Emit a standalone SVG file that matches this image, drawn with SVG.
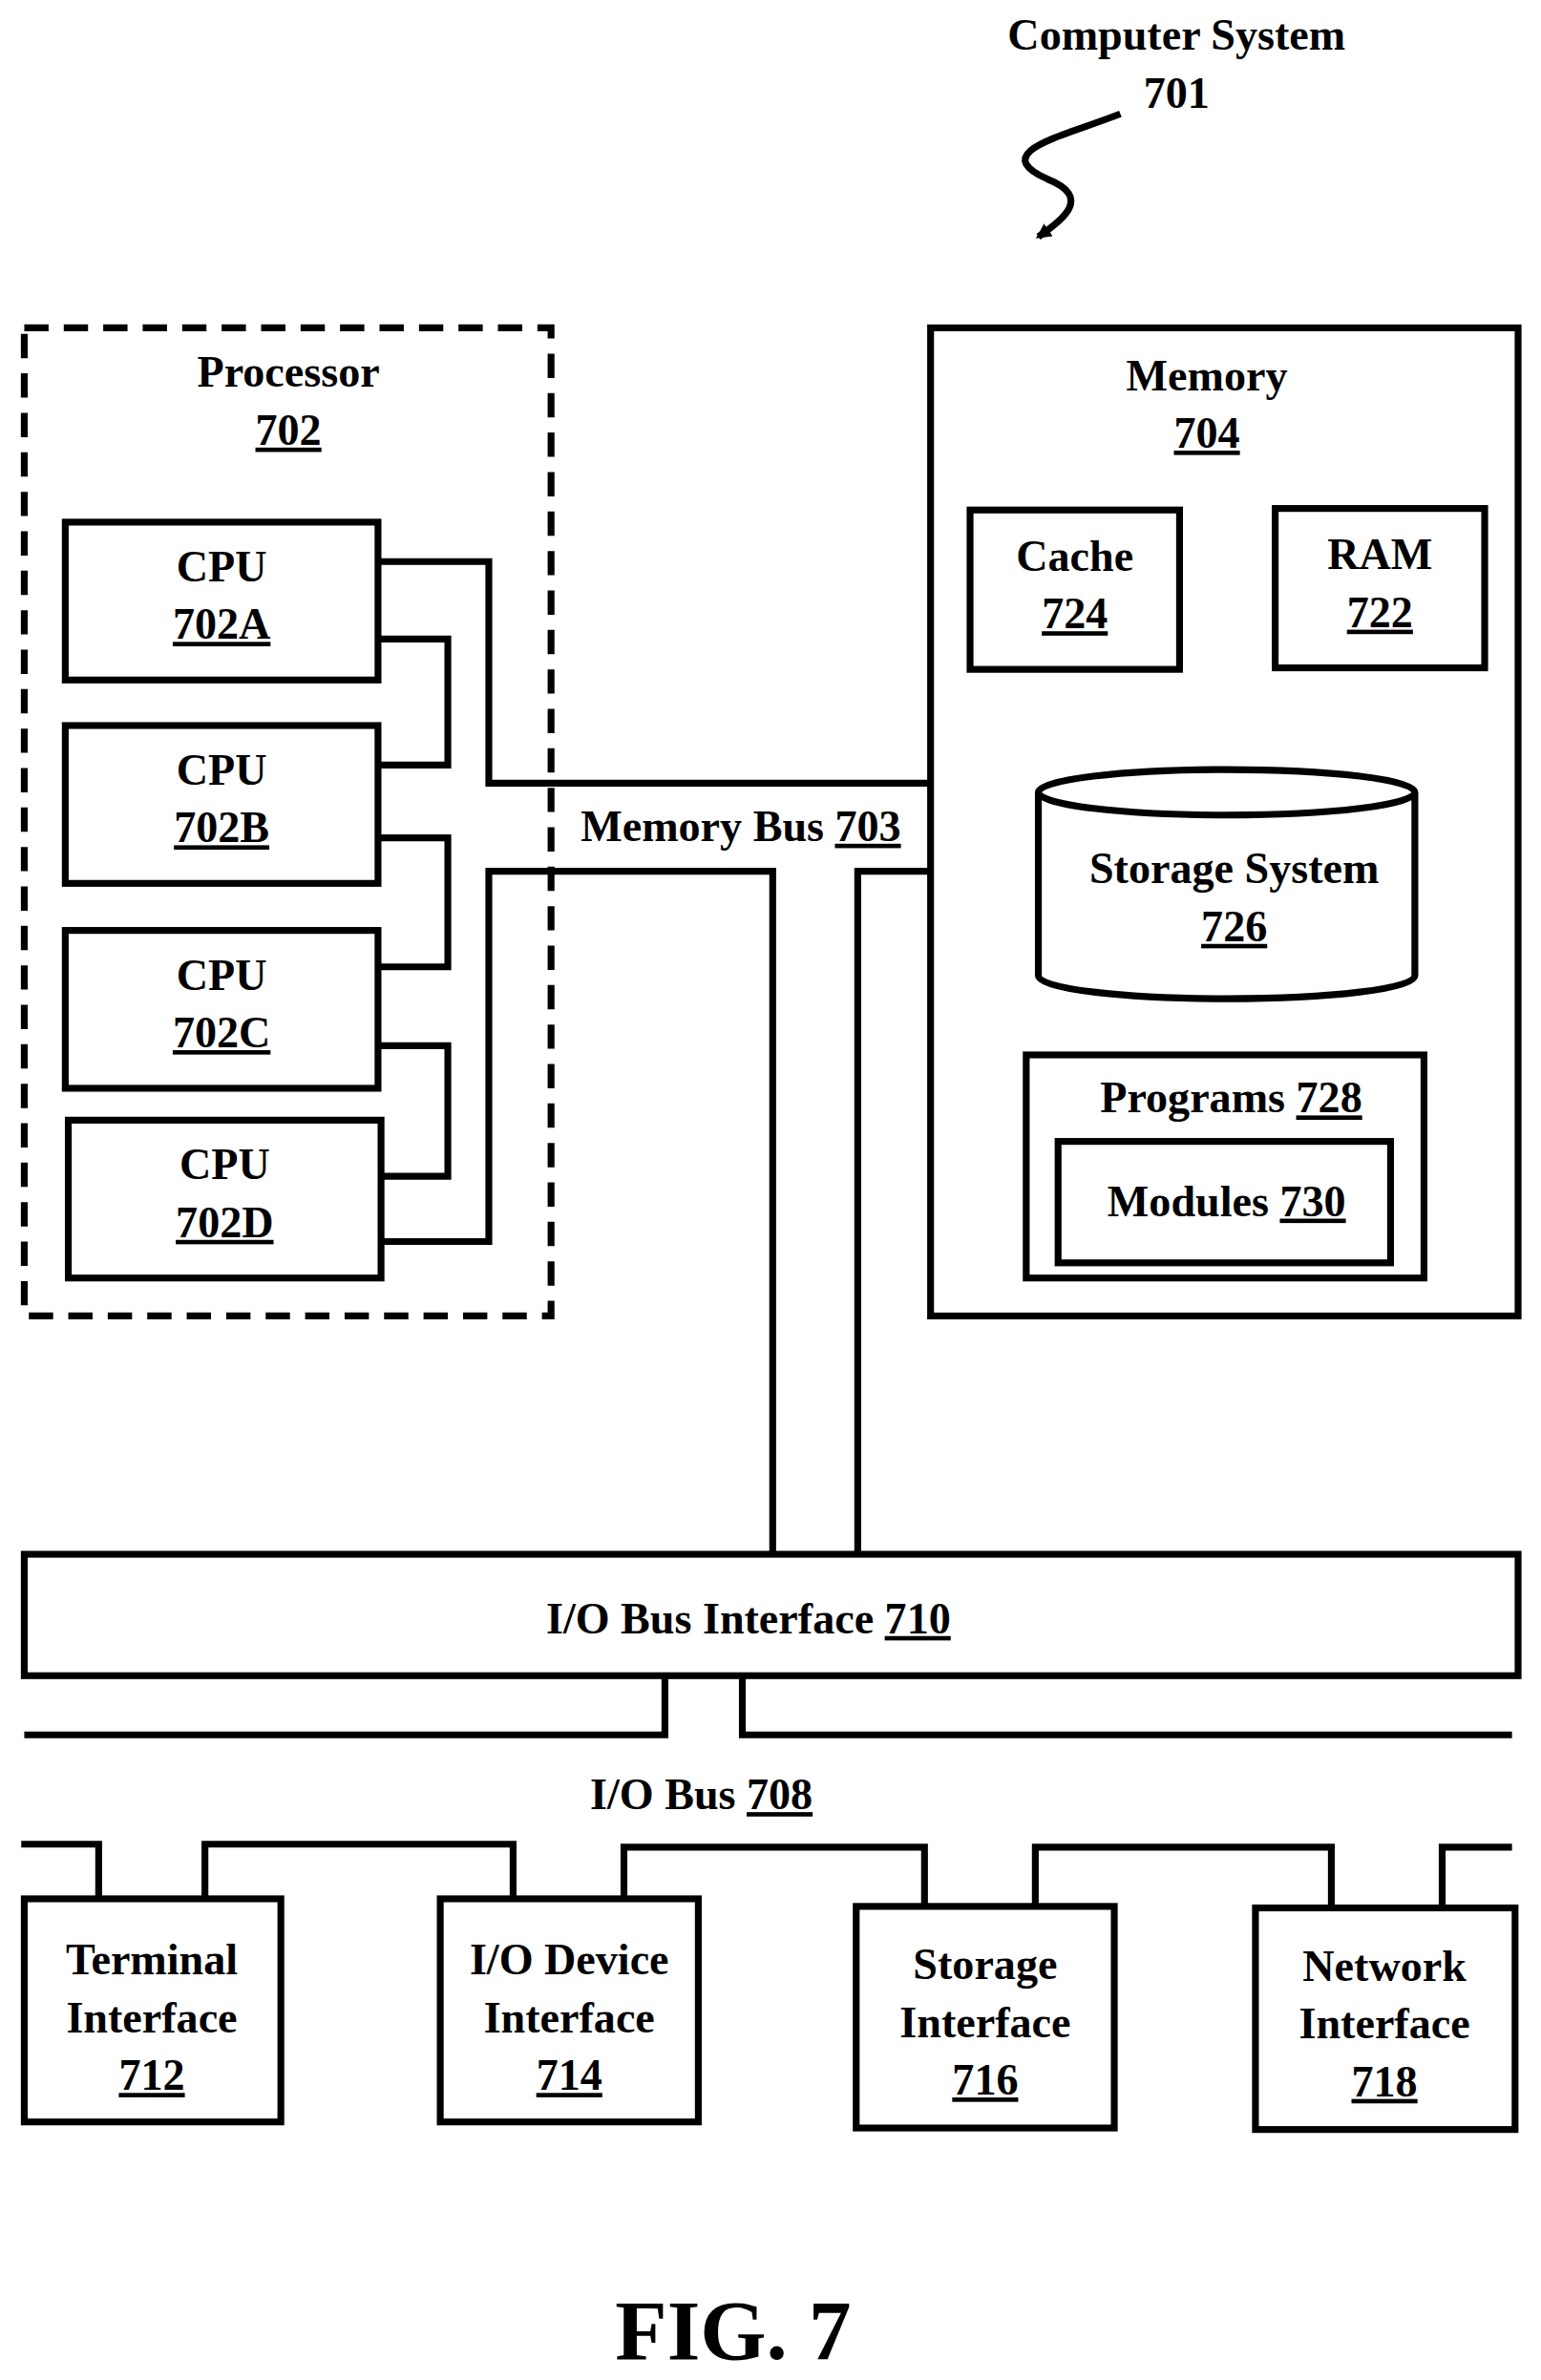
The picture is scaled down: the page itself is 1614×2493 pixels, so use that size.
<svg xmlns="http://www.w3.org/2000/svg" width="1614" height="2493" viewBox="0 0 1614 2493">
<style>
text{font-family:"Liberation Serif","Times New Roman",serif;font-weight:bold;font-size:29px;text-anchor:middle;fill:#000}
.u{text-decoration:underline}
.b{fill:#fff;stroke:#000;stroke-width:4.5}
.l{fill:none;stroke:#000;stroke-width:4.5}
</style>
<defs><marker id="ah" markerWidth="10" markerHeight="10" refX="8" refY="5" orient="auto" markerUnits="userSpaceOnUse"><path d="M0,0 L10,5 L0,10 z"/></marker></defs>
<rect width="1614" height="2493" fill="#fff"/>
<g transform="scale(1.59,1.5899)">
<g id="title"><text x="775" y="33">Computer System</text><text x="775" y="71">701</text>
<path class="l" d="M738,75 C700,90 650,100 690,118 C720,130 700,145 684,156" marker-end="url(#ah)" stroke-width="3"/></g>
<g id="processor"><rect x="16" y="216" width="347" height="651" fill="none" stroke="#000" stroke-width="4.5" stroke-dasharray="16,10"/>
<text x="190" y="255">Processor</text><text x="190" y="293" class="u">702</text></g>
<g id="cpuA"><rect class="b" x="43" y="344" width="206" height="104"/><text x="146" y="383">CPU</text><text x="146" y="421" class="u">702A</text></g>
<g id="cpuB"><rect class="b" x="43" y="478" width="206" height="104"/><text x="146" y="517">CPU</text><text x="146" y="555" class="u">702B</text></g>
<g id="cpuC"><rect class="b" x="43" y="613" width="206" height="104"/><text x="146" y="652">CPU</text><text x="146" y="690" class="u">702C</text></g>
<g id="cpuD"><rect class="b" x="45" y="738" width="206" height="104"/><text x="148" y="777">CPU</text><text x="148" y="815" class="u">702D</text></g>
<g id="memory"><rect class="b" x="613" y="216" width="387" height="651"/><text x="795" y="257">Memory</text><text x="795" y="295" class="u">704</text></g>
<g id="cache"><rect class="b" x="639" y="336" width="138" height="105"/><text x="708" y="376">Cache</text><text x="708" y="414" class="u">724</text></g>
<g id="ram"><rect class="b" x="840" y="335" width="138" height="105"/><text x="909" y="375">RAM</text><text x="909" y="413" class="u">722</text></g>
<g id="storage"><path class="b" d="M684,522 L684,643 A124,15 0 0 0 932,643 L932,522"/><ellipse class="b" cx="808" cy="522" rx="124" ry="15"/>
<text x="813" y="582">Storage System</text><text x="813" y="620" class="u">726</text></g>
<g id="programs"><rect class="b" x="676" y="695" width="262" height="147"/><text x="811" y="733">Programs <tspan class="u">728</tspan></text></g>
<g id="modules"><rect class="b" x="697" y="752" width="219" height="80"/><text x="808" y="801">Modules <tspan class="u">730</tspan></text></g>
<g id="iobi"><rect class="b" x="16" y="1024" width="984" height="80"/><text x="493" y="1076">I/O Bus Interface <tspan class="u">710</tspan></text></g>
<g id="term"><rect class="b" x="16" y="1251" width="169" height="147"/><text x="100" y="1301">Terminal</text><text x="100" y="1339">Interface</text><text x="100" y="1377" class="u">712</text></g>
<g id="iodev"><rect class="b" x="290" y="1251" width="170" height="147"/><text x="375" y="1301">I/O Device</text><text x="375" y="1339">Interface</text><text x="375" y="1377" class="u">714</text></g>
<g id="stor"><rect class="b" x="564" y="1256" width="170" height="146"/><text x="649" y="1304">Storage</text><text x="649" y="1342">Interface</text><text x="649" y="1380" class="u">716</text></g>
<g id="net"><rect class="b" x="827" y="1257" width="171" height="146"/><text x="912" y="1305">Network</text><text x="912" y="1343">Interface</text><text x="912" y="1381" class="u">718</text></g>
<g id="connectors">
<path class="l" d="M249,370 H322 V516 H613"/>
<path class="l" d="M249,421 H295 V504 H249"/>
<path class="l" d="M249,552 H295 V637 H249"/>
<path class="l" d="M249,689 H295 V775 H251"/>
<path class="l" d="M251,818 H322 V574 H509 V1024"/>
<path class="l" d="M613,574 H565 V1024"/>
<path class="l" d="M16,1143 H438 V1104"/>
<path class="l" d="M489,1104 V1143 H996"/>
<path class="l" d="M14,1215 H65 V1251"/>
<path class="l" d="M135,1251 V1215 H338 V1251"/>
<path class="l" d="M411,1251 V1217 H609 V1256"/>
<path class="l" d="M682,1256 V1217 H877 V1257"/>
<path class="l" d="M950,1257 V1217 H996"/>
</g>
<text x="488" y="554">Memory Bus <tspan class="u">703</tspan></text>
<text x="462" y="1192">I/O Bus <tspan class="u">708</tspan></text>
<text x="483" y="1554" style="font-size:56px">FIG. 7</text>
</g>
</svg>
